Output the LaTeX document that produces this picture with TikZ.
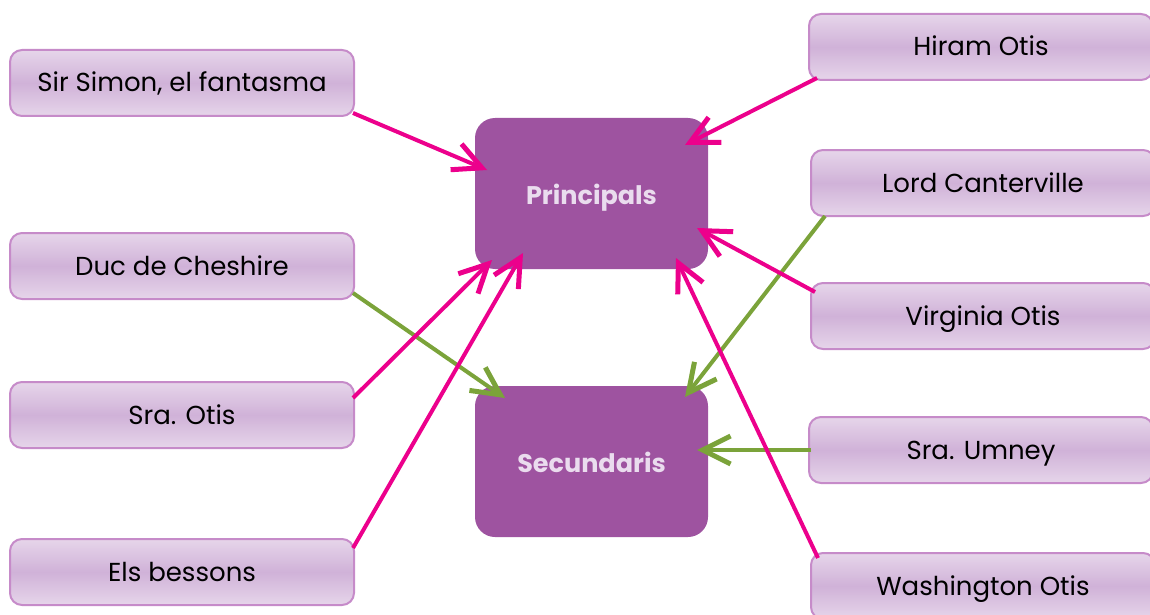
\documentclass[tikz,border=0pt]{standalone}
\usepackage{fontspec}
\setmainfont{Poppins}
\usetikzlibrary{arrows.meta}
\definecolor{pinkarr}{HTML}{EC008C}
\definecolor{greenarr}{HTML}{7BA33A}
\definecolor{mainbox}{HTML}{9E53A0}
\definecolor{maintext}{HTML}{EADCEE}
\definecolor{namebord}{HTML}{C68BC9}
\definecolor{nametop}{HTML}{E6D5EA}
\definecolor{namemid}{HTML}{D0B2D8}
\tikzset{
  namebox/.style={draw=namebord, line width=2pt, rounded corners=12pt,
    top color=nametop, bottom color=nametop, middle color=namemid,
    minimum width=344pt, minimum height=66pt, inner sep=0pt,
    text height=18pt, text depth=0pt,
    font=\fontsize{26}{30}\selectfont, text=black},
  catbox/.style={fill=mainbox, rounded corners=20pt, minimum width=233pt,
    minimum height=151pt, inner sep=0pt, text=maintext,
    text height=21pt, text depth=0pt,
    font=\fontsize{25.5}{30}\selectfont\bfseries},
  pinkline/.style={draw=pinkarr, line width=4pt,
    -{Straight Barb[length=28pt,width=28pt,line width=5pt]}},
  greenline/.style={draw=greenarr, line width=4pt,
    -{Straight Barb[length=28pt,width=28pt,line width=5pt]}},
}
\begin{document}
\begin{tikzpicture}[x=1pt,y=-1pt]
\useasboundingbox (0,0) rectangle (1150,615);
% category boxes
\node[catbox] (pr) at (591.5,193.5) {Principals};
\node[catbox] (se) at (591.5,461.5) {Secundaris};
% name boxes
\node[namebox] (simon) at (182,83) {Sir Simon, el fantasma};
\node[namebox] (duc) at (182,266) {Duc de Cheshire};
\node[namebox] (sotis) at (182,415) {Sra. Otis};
\node[namebox] (bess) at (182,572) {Els bessons};
\node[namebox] (hiram) at (981,47) {Hiram Otis};
\node[namebox] (lord) at (983,183) {Lord Canterville};
\node[namebox] (virg) at (983,316) {Virginia Otis};
\node[namebox] (umney) at (981,450) {Sra. Umney};
\node[namebox] (wash) at (983,586) {Washington Otis};
% anchor coordinates for arrow ends
\coordinate (simonS) at (353,113);
\coordinate (prA) at (487,170);
\coordinate (hiramS) at (817,78);
\coordinate (prB) at (685,145);
\coordinate (lordS) at (825,216);
\coordinate (seA) at (685,397);
\coordinate (virgS) at (815,292);
\coordinate (prC) at (697,228);
\coordinate (ducS) at (353,293);
\coordinate (seB) at (505,398);
\coordinate (sotisS) at (353,398);
\coordinate (prD) at (492,260);
\coordinate (bessS) at (353,548);
\coordinate (prE) at (523,253);
\coordinate (umneyS) at (811,450);
\coordinate (seC) at (697,450);
\coordinate (washS) at (818,558);
\coordinate (prF) at (676,258);
% connectors
\draw[pinkline] (simonS) -- (prA);
\draw[pinkline] (hiramS) -- (prB);
\draw[greenline] (lordS) -- (seA);
\draw[pinkline] (virgS) -- (prC);
\draw[greenline] (ducS) -- (seB);
\draw[pinkline] (sotisS) -- (prD);
\draw[pinkline] (bessS) -- (prE);
\draw[greenline] (umneyS) -- (seC);
\draw[pinkline] (washS) -- (prF);
\end{tikzpicture}
\end{document}
